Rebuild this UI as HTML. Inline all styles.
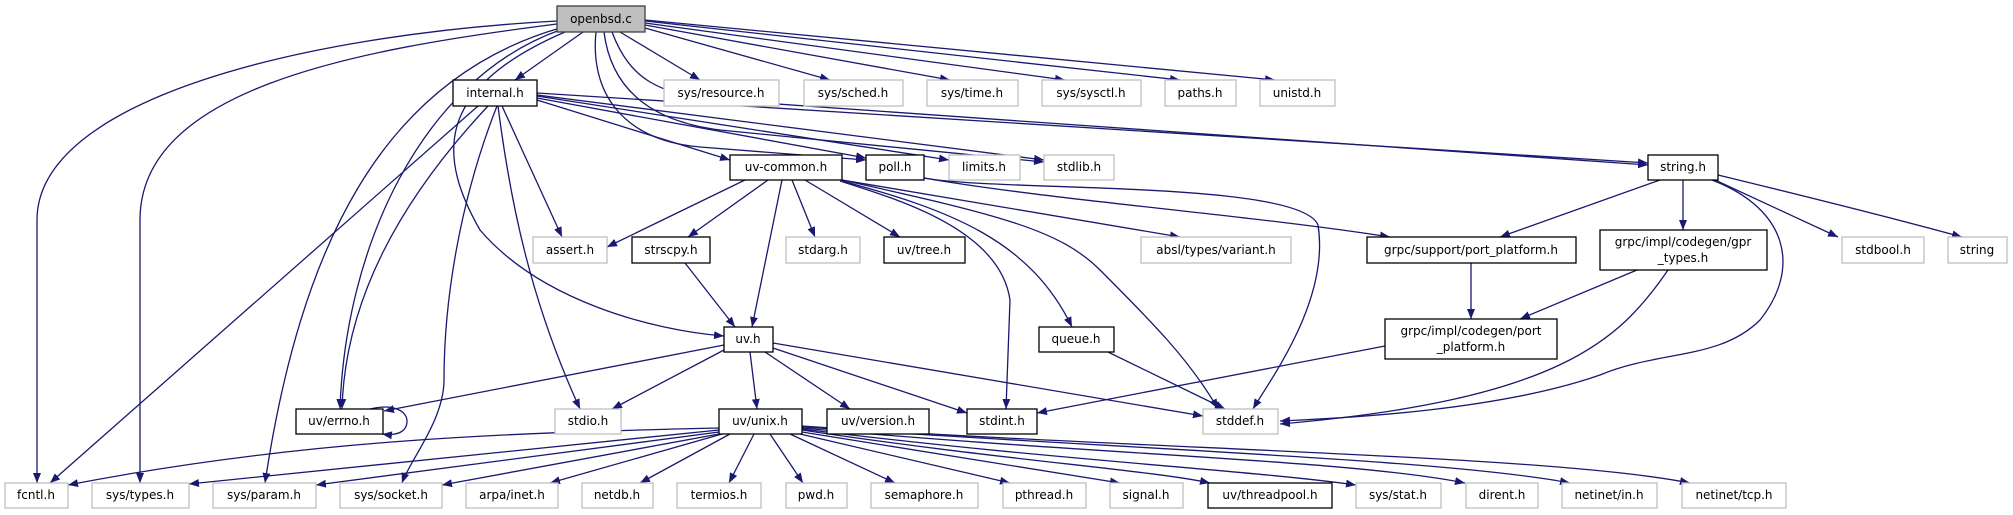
<!DOCTYPE html>
<html><head><meta charset="utf-8"><style>
html,body{margin:0;padding:0;background:#fff;}
svg{display:block;}
text{font-family:"DejaVu Sans","Liberation Sans",sans-serif;font-size:12px;fill:#000;text-anchor:middle;}
.e{fill:none;stroke:#191970;stroke-width:1.3;marker-end:url(#a);}
.n{fill:#fff;stroke:#000;stroke-width:1.3;}
.g{fill:#fff;stroke:#bfbfbf;stroke-width:1.3;}
</style></head><body>
<svg width="2013" height="515" viewBox="0 0 2013 515" xmlns="http://www.w3.org/2000/svg">
<defs><marker id="a" viewBox="0 0 10 8" refX="10" refY="4" markerWidth="10" markerHeight="8" markerUnits="userSpaceOnUse" orient="auto"><path d="M0,0 L10,4 L0,8 z" fill="#191970"/></marker></defs>
<path class="e" d="M557,21 C300,35 37,100 37,220 L37,483"/>
<path class="e" d="M557,24 C350,50 140,90 140,220 L140,483"/>
<path class="e" d="M560,28 C380,80 300,250 265,483"/>
<path class="e" d="M560,30 C420,80 345,250 340,409"/>
<path class="e" d="M565,32 C430,90 440,160 480,230 C540,300 650,330 724,336"/>
<path class="e" d="M583,32 L515,80"/>
<path class="e" d="M620,32 L700,80"/>
<path class="e" d="M645,28 L830,80"/>
<path class="e" d="M645,25 L950,80"/>
<path class="e" d="M645,23 L1065,80"/>
<path class="e" d="M645,21 L1180,80"/>
<path class="e" d="M645,20 L1275,80"/>
<path class="e" d="M604,32 C610,80 640,120 720,130 L1044,162"/>
<path class="e" d="M596,32 C590,90 620,140 700,147 L866,160"/>
<path class="e" d="M612,32 C630,80 660,95 720,100 L1648,165"/>
<path class="e" d="M478,106 L50,483"/>
<path class="e" d="M488,106 C400,200 345,300 342,409"/>
<path class="e" d="M497,106 C460,200 444,300 444,380 C444,420 410,460 402,483"/>
<path class="e" d="M498,106 C510,200 530,300 580,409"/>
<path class="e" d="M502,106 L562,237"/>
<path class="e" d="M537,100 L730,160"/>
<path class="e" d="M537,98 L866,158"/>
<path class="e" d="M537,96 L949,160"/>
<path class="e" d="M537,95 L1044,160"/>
<path class="e" d="M537,93 L1648,163"/>
<path class="e" d="M745,180 L607,247"/>
<path class="e" d="M768,180 L688,237"/>
<path class="e" d="M782,180 L752,327"/>
<path class="e" d="M792,180 L815,237"/>
<path class="e" d="M805,180 L900,237"/>
<path class="e" d="M840,181 C900,200 1000,230 1010,300 L1006,409"/>
<path class="e" d="M842,181 C950,210 1030,240 1072,327"/>
<path class="e" d="M842,180 C1000,215 1060,230 1100,270 C1150,320 1190,360 1218,409"/>
<path class="e" d="M842,180 L1180,237"/>
<path class="e" d="M924,178 C1050,200 1250,215 1390,237"/>
<path class="e" d="M924,178 C1000,192 1300,180 1318,225 C1330,300 1270,380 1253,409"/>
<path class="e" d="M1660,180 L1500,237"/>
<path class="e" d="M1683,180 L1683,230"/>
<path class="e" d="M1715,180 L1838,237"/>
<path class="e" d="M1718,175 C1800,195 1900,220 1962,237"/>
<path class="e" d="M1712,180 C1790,210 1800,270 1760,320 C1720,360 1660,350 1600,375 C1500,410 1350,418 1280,421"/>
<path class="e" d="M1637,270 L1520,319"/>
<path class="e" d="M1668,270 C1620,340 1560,400 1280,424"/>
<path class="e" d="M1471,263 L1471,319"/>
<path class="e" d="M1385,346 L1037,413"/>
<path class="e" d="M1108,352 L1225,409"/>
<path class="e" d="M685,263 L735,327"/>
<path class="e" d="M724,345 L384,411"/>
<path class="e" d="M724,350 L612,409"/>
<path class="e" d="M750,352 L757,409"/>
<path class="e" d="M765,352 L850,409"/>
<path class="e" d="M773,348 L967,413"/>
<path class="e" d="M773,343 L1203,416"/>
<path class="e" d="M370,409 C395,403 407,412 407,421 C407,432 397,436 382,434"/>
<path class="e" d="M719,428 C500,433 300,440 68,485"/>
<path class="e" d="M719,430 L189,484"/>
<path class="e" d="M719,432 L316,485"/>
<path class="e" d="M719,434 L442,485"/>
<path class="e" d="M722,434 L550,483"/>
<path class="e" d="M730,434 L640,483"/>
<path class="e" d="M754,434 L729,483"/>
<path class="e" d="M770,434 L803,483"/>
<path class="e" d="M790,434 L895,483"/>
<path class="e" d="M800,434 L1010,483"/>
<path class="e" d="M802,432 L1120,483"/>
<path class="e" d="M802,430 C1000,460 1150,470 1210,483"/>
<path class="e" d="M802,429 C1050,460 1250,470 1356,485"/>
<path class="e" d="M802,428 C1100,455 1350,460 1465,483"/>
<path class="e" d="M802,427 C1150,450 1450,460 1570,483"/>
<path class="e" d="M802,426 C1150,450 1550,455 1690,483"/>
<rect x="557" y="6" width="88" height="26" fill="#bfbfbf" stroke="#404040" stroke-width="1.3"/><text x="601" y="23">openbsd.c</text>
<rect class="n" x="453" y="80" width="84" height="26"/><text x="495" y="97">internal.h</text>
<rect class="g" x="664" y="80" width="115" height="26"/><text x="721" y="97">sys/resource.h</text>
<rect class="g" x="804" y="80" width="99" height="26"/><text x="853" y="97">sys/sched.h</text>
<rect class="g" x="927" y="80" width="91" height="26"/><text x="972" y="97">sys/time.h</text>
<rect class="g" x="1042" y="80" width="99" height="26"/><text x="1091" y="97">sys/sysctl.h</text>
<rect class="g" x="1165" y="80" width="71" height="26"/><text x="1200" y="97">paths.h</text>
<rect class="g" x="1260" y="80" width="75" height="26"/><text x="1297" y="97">unistd.h</text>
<rect class="n" x="730" y="155" width="112" height="25"/><text x="786" y="171">uv-common.h</text>
<rect class="n" x="866" y="155" width="58" height="25"/><text x="895" y="171">poll.h</text>
<rect class="g" x="949" y="155" width="71" height="25"/><text x="984" y="171">limits.h</text>
<rect class="g" x="1044" y="155" width="70" height="25"/><text x="1079" y="171">stdlib.h</text>
<rect class="n" x="1648" y="155" width="70" height="25"/><text x="1683" y="171">string.h</text>
<rect class="g" x="533" y="237" width="74" height="26"/><text x="570" y="254">assert.h</text>
<rect class="n" x="632" y="237" width="78" height="26"/><text x="671" y="254">strscpy.h</text>
<rect class="g" x="786" y="237" width="74" height="26"/><text x="823" y="254">stdarg.h</text>
<rect class="n" x="884" y="237" width="81" height="26"/><text x="924" y="254">uv/tree.h</text>
<rect class="g" x="1141" y="237" width="150" height="26"/><text x="1216" y="254">absl/types/variant.h</text>
<rect class="n" x="1367" y="237" width="209" height="26"/><text x="1471" y="254">grpc/support/port_platform.h</text>
<rect class="n" x="1600" y="230" width="167" height="40"/><text x="1683" y="246">grpc/impl/codegen/gpr</text><text x="1683" y="262">_types.h</text>
<rect class="g" x="1842" y="237" width="82" height="26"/><text x="1883" y="254">stdbool.h</text>
<rect class="g" x="1948" y="237" width="59" height="26"/><text x="1977" y="254">string</text>
<rect class="n" x="724" y="327" width="49" height="25"/><text x="748" y="343">uv.h</text>
<rect class="n" x="1039" y="327" width="75" height="25"/><text x="1076" y="343">queue.h</text>
<rect class="n" x="1385" y="319" width="172" height="40"/><text x="1471" y="335">grpc/impl/codegen/port</text><text x="1471" y="351">_platform.h</text>
<rect class="n" x="296" y="409" width="87" height="25"/><text x="339" y="425">uv/errno.h</text>
<rect class="g" x="555" y="409" width="66" height="25"/><text x="588" y="425">stdio.h</text>
<rect class="n" x="719" y="409" width="83" height="25"/><text x="760" y="425">uv/unix.h</text>
<rect class="n" x="827" y="409" width="102" height="25"/><text x="878" y="425">uv/version.h</text>
<rect class="n" x="967" y="409" width="70" height="25"/><text x="1002" y="425">stdint.h</text>
<rect class="g" x="1203" y="409" width="75" height="25"/><text x="1240" y="425">stddef.h</text>
<rect class="g" x="5" y="483" width="63" height="25"/><text x="36" y="499">fcntl.h</text>
<rect class="g" x="92" y="483" width="97" height="25"/><text x="140" y="499">sys/types.h</text>
<rect class="g" x="213" y="483" width="103" height="25"/><text x="264" y="499">sys/param.h</text>
<rect class="g" x="340" y="483" width="102" height="25"/><text x="391" y="499">sys/socket.h</text>
<rect class="g" x="466" y="483" width="92" height="25"/><text x="512" y="499">arpa/inet.h</text>
<rect class="g" x="582" y="483" width="71" height="25"/><text x="617" y="499">netdb.h</text>
<rect class="g" x="677" y="483" width="84" height="25"/><text x="719" y="499">termios.h</text>
<rect class="g" x="786" y="483" width="61" height="25"/><text x="816" y="499">pwd.h</text>
<rect class="g" x="871" y="483" width="107" height="25"/><text x="924" y="499">semaphore.h</text>
<rect class="g" x="1003" y="483" width="83" height="25"/><text x="1044" y="499">pthread.h</text>
<rect class="g" x="1110" y="483" width="73" height="25"/><text x="1146" y="499">signal.h</text>
<rect class="n" x="1208" y="483" width="124" height="25"/><text x="1270" y="499">uv/threadpool.h</text>
<rect class="g" x="1356" y="483" width="85" height="25"/><text x="1398" y="499">sys/stat.h</text>
<rect class="g" x="1466" y="483" width="72" height="25"/><text x="1502" y="499">dirent.h</text>
<rect class="g" x="1562" y="483" width="95" height="25"/><text x="1609" y="499">netinet/in.h</text>
<rect class="g" x="1682" y="483" width="104" height="25"/><text x="1734" y="499">netinet/tcp.h</text>
</svg>
</body></html>
